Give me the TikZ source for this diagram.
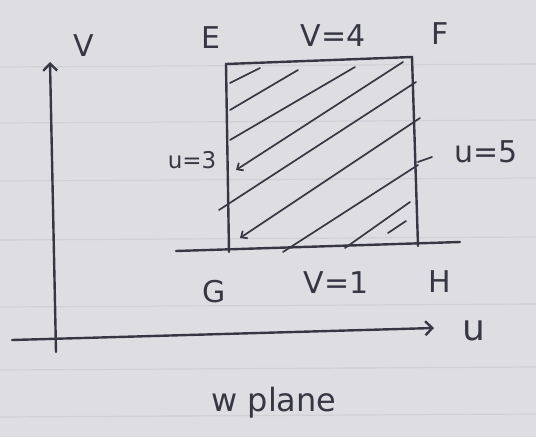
\documentclass[tikz,border=0pt]{standalone}
\usetikzlibrary{arrows.meta}
\usepackage{fontspec}
\setsansfont{DejaVu Sans}
\definecolor{paper}{RGB}{222,222,226}
\definecolor{rule}{RGB}{208,208,214}
\definecolor{ink}{RGB}{55,55,68}
\begin{document}
\begin{tikzpicture}[x=1pt, y=-1pt,
  pen/.style={draw=ink, line width=2.4pt, line cap=round},
  hatch/.style={draw=ink, line width=1.7pt, line cap=round},
  lbl/.style={text=ink, font=\sffamily\fontsize{30}{30}\selectfont},
  small/.style={text=ink, font=\sffamily\fontsize{23}{23}\selectfont}]
  \fill[paper] (0,0) rectangle (536,437);
  \useasboundingbox (0,0) rectangle (536,437);
  % paper rules
  \foreach \y in {67,123,181,240,307,370,417}
    \draw[rule, line width=1.2pt] (0,\y) -- (536,\y-3);
  % axes
  \coordinate (o1) at (56,352);
  \coordinate (vt) at (50,62);
  \coordinate (o2) at (12,340);
  \coordinate (ut) at (434,328);
  \draw[pen, -{Straight Barb[length=7pt,width=14pt]}] (o1) -- (vt);
  \draw[pen, -{Straight Barb[length=7pt,width=14pt]}] (o2) -- (ut);
  \node[lbl] (vlab) at (84,46) {V};
  \node[lbl, font=\sffamily\fontsize{36}{36}\selectfont] (ulab) at (474,331) {u};
  % region corners
  \coordinate (E) at (226,64);
  \coordinate (F) at (412,57);
  \coordinate (G) at (229,252);
  \coordinate (H) at (418,246);
  \coordinate (gl) at (176,251);
  \coordinate (gr) at (460,242);
  \draw[pen] (G) -- (E) -- (F) -- (H);
  \draw[pen] (gl) -- (gr);
  % hatching
  \draw[hatch] (230,83) -- (260,68);
  \draw[hatch] (230,110) -- (298,70);
  \draw[hatch] (230,140) -- (355,67);
  \draw[hatch, {Straight Barb[length=5pt,width=9pt]}-] (236,170) -- (403,62);
  \draw[hatch] (219,210) -- (416,82);
  \draw[hatch, {Straight Barb[length=5pt,width=9pt]}-] (240,238) -- (420,118);
  \draw[hatch] (283,252) -- (418,165);
  \draw[hatch] (418,162) -- (432,157);
  \draw[hatch] (345,248) -- (410,202);
  \draw[hatch] (388,233) -- (406,221);
  % labels
  \node[lbl] (Elab) at (211,38) {E};
  \node[lbl] (Flab) at (440,34) {F};
  \node[lbl] (Glab) at (214,292) {G};
  \node[lbl] (Hlab) at (440,282) {H};
  \node[lbl] (top) at (333,36) {V=4};
  \node[lbl] (bot) at (336,283) {V=1};
  \node[small] (left) at (192,160) {u=3};
  \node[lbl] (right) at (486,152) {u=5};
  \node[lbl, font=\sffamily\fontsize{32}{32}\selectfont] (name) at (274,403) {w plane};
\end{tikzpicture}
\end{document}
